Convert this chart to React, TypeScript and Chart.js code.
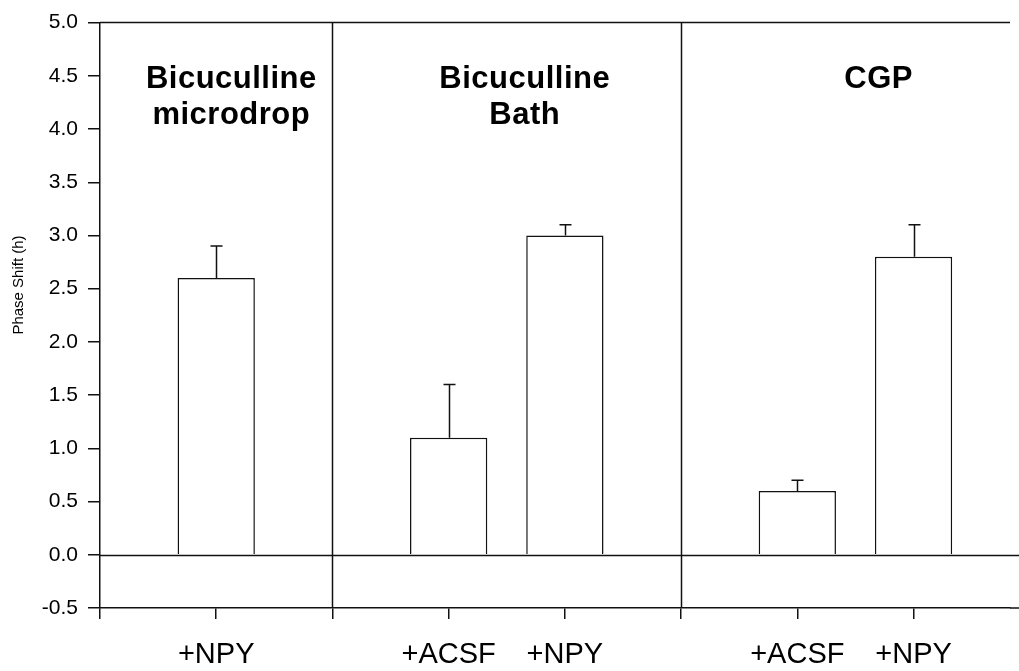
import React, { useEffect, useRef } from "react";
import { Chart, registerables } from "chart.js";

Chart.register(...registerables);

// ---- data ----
const barPositions = [1, 3, 4, 6, 7];
const barValues = [2.6, 1.1, 3.0, 0.6, 2.8];
const errorValues = [0.3, 0.5, 0.1, 0.1, 0.3];
const barLabels = ["+NPY", "+ACSF", "+NPY", "+ACSF", "+NPY"];
const xTickPositions = [0, 1, 2, 3, 4, 5, 6, 7];
const separatorPositions = [2, 5];
const groupTitles = [["Bicuculline", "microdrop"], ["Bicuculline", "Bath"], ["CGP"]];
const groupTitleCenters = [1.13, 3.655, 6.7];
const yMin = -0.5;
const yMax = 5.0;
const yStep = 0.5;
const yAxisTitle = "Phase Shift (h)";

const FONT = "'Liberation Sans', Arial, Helvetica, sans-serif";

const overlayPlugin = {
  id: "overlay",
  afterDatasetsDraw(chart: any) {
    const ctx = chart.ctx;
    const xs = chart.scales.x;
    const ys = chart.scales.y;
    const area = chart.chartArea;
    ctx.save();
    ctx.strokeStyle = "#111";
    ctx.lineWidth = 1.5;

    // top border
    ctx.beginPath();
    ctx.moveTo(area.left, area.top);
    ctx.lineTo(area.right, area.top);
    ctx.stroke();

    // separators
    separatorPositions.forEach((p) => {
      const x = Math.round(xs.getPixelForValue(p)) + 0.5;
      ctx.beginPath();
      ctx.moveTo(x, area.top);
      ctx.lineTo(x, area.bottom);
      ctx.stroke();
    });

    // zero line
    const y0 = Math.round(ys.getPixelForValue(0)) + 0.5;
    ctx.beginPath();
    ctx.moveTo(area.left, y0);
    ctx.lineTo(chart.width, y0);
    ctx.stroke();

    // bottom line extension
    ctx.beginPath();
    ctx.moveTo(area.right, area.bottom);
    ctx.lineTo(chart.width, area.bottom);
    ctx.stroke();

    // error bars (upper only)
    barPositions.forEach((p, i) => {
      const x = Math.round(xs.getPixelForValue(p)) + 0.5;
      const yTop = ys.getPixelForValue(barValues[i]);
      const yCap = ys.getPixelForValue(barValues[i] + errorValues[i]);
      ctx.beginPath();
      ctx.moveTo(x, yTop);
      ctx.lineTo(x, yCap);
      ctx.moveTo(x - 6, yCap);
      ctx.lineTo(x + 6, yCap);
      ctx.stroke();
    });

    // group titles
    ctx.fillStyle = "#000";
    ctx.font = `bold 31px ${FONT}`;
    try {
      (ctx as any).letterSpacing = "0.5px";
    } catch (e) {}
    ctx.textAlign = "center";
    ctx.textBaseline = "alphabetic";
    groupTitles.forEach((lines, gi) => {
      const cx = xs.getPixelForValue(groupTitleCenters[gi]);
      lines.forEach((line, li) => {
        ctx.fillText(line, cx, area.top + 65 + li * 36);
      });
    });
    try {
      (ctx as any).letterSpacing = "0px";
    } catch (e) {}

    // y axis title
    ctx.font = `15px ${FONT}`;
    ctx.textBaseline = "middle";
    ctx.translate(19, 285);
    ctx.rotate(-Math.PI / 2);
    ctx.fillText(yAxisTitle, 0, 0);
    ctx.restore();
  },
};

export default function App() {
  const canvasRef = useRef<HTMLCanvasElement | null>(null);

  useEffect(() => {
    document.body.style.margin = "0";
    const canvas = canvasRef.current;
    if (!canvas) return;
    const chart = new Chart(canvas, {
      type: "bar",
      data: {
        datasets: [
          {
            data: barPositions.map((x, i) => ({ x, y: barValues[i] })),
            backgroundColor: "#ffffff",
            borderColor: "#111",
            borderWidth: 1.5,
            categoryPercentage: 1,
            barPercentage: 0.665,
          },
        ],
      },
      options: {
        animation: false,
        responsive: true,
        maintainAspectRatio: false,
        layout: { padding: { top: 18, right: 9, left: 0, bottom: 0 } },
        plugins: {
          legend: { display: false },
          tooltip: { enabled: false },
          title: { display: false },
        },
        scales: {
          x: {
            type: "linear",
            min: 0,
            max: 7.83,
            offset: false,
            afterBuildTicks: (scale: any) => {
              scale.ticks = xTickPositions.map((v) => ({ value: v }));
            },
            afterFit: (scale: any) => {
              scale.height = 63;
            },
            ticks: {
              autoSkip: false,
              maxRotation: 0,
              padding: 19,
              color: "#000",
              font: { family: FONT, size: 29 },
              callback: (value: any) => {
                const idx = barPositions.indexOf(Number(value));
                return idx >= 0 ? barLabels[idx] : "";
              },
            },
            grid: {
              offset: false,
              drawOnChartArea: false,
              drawTicks: true,
              tickLength: 11,
              color: "#111",
              lineWidth: 1.5,
            },
            border: { display: true, color: "#111", width: 1.5 },
          },
          y: {
            type: "linear",
            min: yMin,
            max: yMax,
            afterFit: (scale: any) => {
              scale.width = 100;
            },
            ticks: {
              stepSize: yStep,
              padding: 10,
              color: "#000",
              font: { family: FONT, size: 21 },
              callback: (value: any) => Number(value).toFixed(1),
            },
            grid: {
              drawOnChartArea: false,
              drawTicks: true,
              tickLength: 12,
              color: "#111",
              lineWidth: 1.5,
            },
            border: { display: true, color: "#111", width: 1.5 },
          },
        },
      },
      plugins: [overlayPlugin],
    } as any);
    return () => chart.destroy();
  }, []);

  return (
    <div style={{ position: "fixed", left: 0, top: 0, width: 1019, height: 671, background: "#fff" }}>
      <canvas ref={canvasRef} />
    </div>
  );
}
